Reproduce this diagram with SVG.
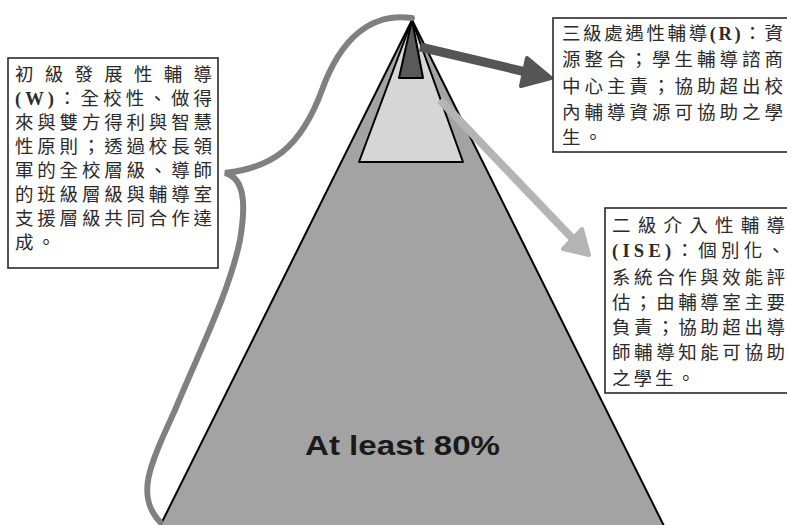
<svg xmlns="http://www.w3.org/2000/svg" width="787" height="525" viewBox="0 0 787 525">
<style>
.box{fill:#fff;stroke:#2a2a2a;stroke-width:1.6}
.t{font-family:"Noto Sans CJK TC","Noto Sans CJK SC",sans-serif;font-size:18.5px;fill:#2b2b2b}
.l{font-family:"Liberation Serif",serif;font-weight:bold}
.tri{stroke:#000;stroke-width:2;stroke-linejoin:round}
</style>
<rect width="787" height="525" fill="#fff"/>
<g id="pyramid">
<polygon class="tri" points="412,20 157,532 667,532" fill="#a3a3a3"/>
<polygon class="tri" points="412,20 359,162 463,162" fill="#d6d6d6"/>
<polygon class="tri" points="412,20 399,78 423,78" fill="#5a5a5a"/>
<text x="305" y="455" font-family="'Liberation Sans',Arial,sans-serif" font-weight="bold" font-size="27" fill="#1a1a1a" textLength="195" lengthAdjust="spacingAndGlyphs">At least 80%</text>
</g>
<g id="connectors">
<path d="M412,18 C370,12 340,40 322,90 C300,150 270,168 225,173 C245,178 246,205 240,240 C230,290 200,350 175,410 C150,465 135,495 160,522" fill="none" stroke="#808080" stroke-width="6" stroke-linecap="round"/>
<line x1="420" y1="47" x2="526" y2="72" stroke="#555" stroke-width="9"/>
<polygon points="551,78 521,86 527,58" fill="#555" stroke="#555" stroke-width="4" stroke-linejoin="round"/>
<line x1="440" y1="100" x2="572" y2="238" stroke="#b4b4b4" stroke-width="8"/>
<polygon points="589,255 563,249 582,229" fill="#b4b4b4" stroke="#b4b4b4" stroke-width="4" stroke-linejoin="round"/>
</g>
<g id="box-w">
<rect class="box" x="8" y="58" width="210" height="210"/>
<text class="t" x="15" y="81" textLength="197" lengthAdjust="spacing">初級發展性輔導</text>
<text class="t" x="15" y="105" textLength="197" lengthAdjust="spacing"><tspan class="l">(W)</tspan>：全校性、做得</text>
<text class="t" x="15" y="129" textLength="197" lengthAdjust="spacing">來與雙方得利與智慧</text>
<text class="t" x="15" y="153" textLength="197" lengthAdjust="spacing">性原則；透過校長領</text>
<text class="t" x="15" y="177" textLength="197" lengthAdjust="spacing">軍的全校層級、導師</text>
<text class="t" x="15" y="201" textLength="197" lengthAdjust="spacing">的班級層級與輔導室</text>
<text class="t" x="15" y="225" textLength="197" lengthAdjust="spacing">支援層級共同合作達</text>
<text class="t" x="15" y="249" letter-spacing="3.3">成。</text>
</g>
<g id="box-r">
<rect class="box" x="553" y="18" width="250" height="134"/>
<text class="t" x="562" y="40" textLength="221" lengthAdjust="spacing">三級處遇性輔導<tspan class="l">(R)</tspan>：資</text>
<text class="t" x="562" y="66" textLength="221" lengthAdjust="spacing">源整合；學生輔導諮商</text>
<text class="t" x="562" y="93" textLength="221" lengthAdjust="spacing">中心主責；協助超出校</text>
<text class="t" x="562" y="119" textLength="221" lengthAdjust="spacing">內輔導資源可協助之學</text>
<text class="t" x="562" y="144" letter-spacing="3.3">生。</text>
</g>
<g id="box-ise">
<rect class="box" x="605" y="208" width="200" height="185"/>
<text class="t" x="612" y="232" textLength="173" lengthAdjust="spacing">二級介入性輔導</text>
<text class="t" x="612" y="257" textLength="173" lengthAdjust="spacing"><tspan class="l">(ISE)</tspan>：個別化、</text>
<text class="t" x="612" y="284" textLength="173" lengthAdjust="spacing">系統合作與效能評</text>
<text class="t" x="612" y="309" textLength="173" lengthAdjust="spacing">估；由輔導室主要</text>
<text class="t" x="612" y="334" textLength="173" lengthAdjust="spacing">負責；協助超出導</text>
<text class="t" x="612" y="359" textLength="173" lengthAdjust="spacing">師輔導知能可協助</text>
<text class="t" x="612" y="385" letter-spacing="3">之學生。</text>
</g>
</svg>
